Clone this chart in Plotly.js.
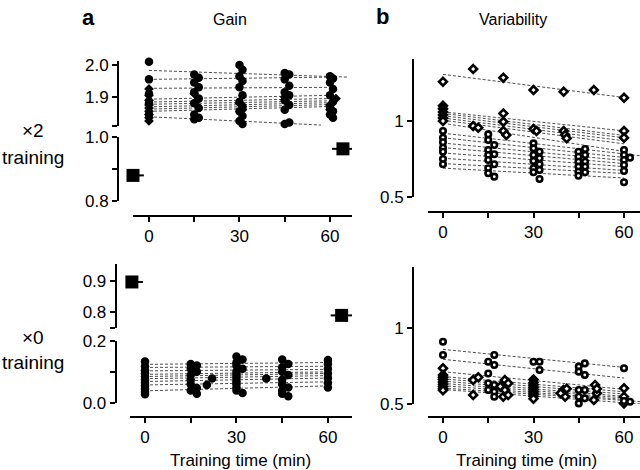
<!DOCTYPE html>
<html>
<head>
<meta charset="utf-8">
<script src="https://cdn.plot.ly/plotly-3.0.1.min.js"></script>
<style>html,body{margin:0;padding:0;background:#fff;}#chart{width:640px;height:470px;}</style>
</head>
<body>
<div id="chart"></div>
<script>
// ---------- DATA ----------
const timeTicks = [0, 15, 30, 45, 60];
const timeTickText = ['0', '', '30', '', '60'];

// Panel a, x2 training (gain), upper segment
const gainX2CircX = [0,0,0,0,0, 15,16.5,15,16.5,15,16.5,15,16.5,15,16.5,15, 30,31,30,31,30,31,30,31,30,31,30,31, 45,46.5,45,46.5,45,46.5,45,46.5,45,46.5,45, 60,61,60,61,60,61,60,61,60,61];
const gainX2CircY = [2.01,1.955,1.91,1.88,1.845, 1.97,1.96,1.945,1.93,1.915,1.895,1.88,1.865,1.845,1.835,1.83, 2.0,1.985,1.965,1.95,1.93,1.905,1.885,1.87,1.855,1.84,1.825,1.815, 1.975,1.97,1.955,1.935,1.915,1.905,1.89,1.875,1.86,1.82,1.815, 1.965,1.958,1.945,1.925,1.905,1.885,1.87,1.855,1.845,1.835];
const gainX2DiaX = [0,0,0,0,0,0,0,0,0, 15,16, 30,31, 45,46, 62,60,60];
const gainX2DiaY = [1.925,1.905,1.89,1.875,1.865,1.855,1.845,1.835,1.825, 1.91,1.89, 1.88,1.86, 1.90,1.88, 1.895,1.875,1.86];
const gainX2LineStart = [1.983,1.955,1.927,1.893,1.884,1.877,1.869,1.862,1.855,1.838];
const gainX2LineEnd   = [1.962,1.962,1.93,1.905,1.895,1.888,1.882,1.876,1.87,1.812];
const gainX2LineEndX  = [66,60,60,60,60,60,60,60,60,57];
// Panel a, x2 training, lower segment (mean gain before / after)
const gainX2MeanX = [-5.3, 64.3];
const gainX2MeanY = [0.88, 0.963];
const gainX2MeanErr = [3.6, 3.6];

// Panel a, x0 training (gain), lower segment
const gainX0CircX = [0,0,0,0,0,0,0,0,0,0,0, 15,17,15,17,15,15,15,17,15,17, 20.3,22, 30,32,30,30,32,30,30,30,30,30,30,30,32, 39.8, 45,47,45,45,47,45,45,47,45,45,47, 60,60,60,60,60,60,60];
const gainX0CircY = [0.133,0.118,0.105,0.095,0.085,0.075,0.065,0.055,0.045,0.035,0.028, 0.125,0.12,0.11,0.10,0.09,0.075,0.06,0.048,0.04,0.03, 0.058,0.079, 0.149,0.14,0.13,0.12,0.11,0.10,0.09,0.08,0.07,0.06,0.05,0.04,0.032, 0.079, 0.14,0.125,0.115,0.10,0.09,0.075,0.06,0.05,0.04,0.03,0.022, 0.138,0.125,0.11,0.095,0.08,0.065,0.05];
const gainX0LineStart = [0.124,0.114,0.103,0.092,0.085,0.078,0.069,0.058,0.039];
const gainX0LineEnd   = [0.13,0.118,0.108,0.10,0.095,0.088,0.08,0.068,0.055];
const gainX0LineEndX  = [60,60,60,60,60,60,60,60,60];
// Panel a, x0 training, upper segment (mean gain before / after)
const gainX0MeanX = [-4.3, 64.5];
const gainX0MeanY = [0.896, 0.79];
const gainX0MeanErr = [3.6, 3.6];

// Panel b, x2 training (variability)
const varX2DiaX = [0,10,20,30,40,50,60, 0,0,0,0,0,0, 10,11.7, 20,20,20,21, 30,31, 40,40.5,41, 60,60];
const varX2DiaY = [1.259,1.342,1.285,1.204,1.193,1.204,1.153, 1.10,1.08,1.06,1.04,1.02,1.0, 0.967,0.956, 1.05,0.995,0.934,0.908, 0.947,0.934, 0.934,0.908,0.886, 0.934,0.89];
const varX2CircX = [0,0,0,0,0,0,0, 15,15,17,15,17,15,15,17,15,15,17, 30,30,32,30,32,30,32,30,32,30,32, 44.9,47.1,44.9,47.1,44.9,47.1,44.9,47.1,44.9,47.1,44.9, 60,60,62,60,60,60,60];
const varX2CircY = [0.934,0.89,0.86,0.824,0.798,0.75,0.715, 0.912,0.875,0.842,0.809,0.781,0.776,0.743,0.715,0.689,0.656,0.634, 0.853,0.82,0.798,0.776,0.755,0.737,0.715,0.689,0.678,0.663,0.618, 0.798,0.816,0.765,0.776,0.732,0.732,0.70,0.70,0.666,0.663,0.64, 0.809,0.776,0.759,0.743,0.711,0.671,0.597];
const varX2LineStart = [1.307,1.06,1.05,1.035,1.02,1.005,0.985,0.92,0.89,0.855,0.825,0.79,0.755,0.72,0.69];
const varX2LineEnd   = [1.155,0.935,0.905,0.89,0.87,0.85,0.80,0.77,0.76,0.74,0.72,0.70,0.675,0.655,0.625];
const varX2LineEndX  = [60,60,60,60,60,60,60,66,60,60,60,60,60,60,60];

// Panel b, x0 training (variability)
const varX0CircX = [0,0, 15,17,17,15,15,17,15,17,17, 30,32,32, 45,47,45,47,45,47,45,47,45, 60,60,62];
const varX0CircY = [0.908,0.821, 0.777,0.821,0.756,0.70,0.636,0.625,0.592,0.581,0.548, 0.777,0.777,0.723, 0.745,0.766,0.712,0.69,0.592,0.592,0.548,0.537,0.504, 0.734,0.52,0.515];
const varX0DiaX = [0,0,0,0,0,0,0,0,0, 10,11.7,10, 20.5,21.6,20.5,20,21.6,19, 30,30,30,30,30,30,30,30,30, 39.9,40.5,41,39, 50.4,51,50,51, 60,60,60];
const varX0DiaY = [0.734,0.69,0.675,0.66,0.645,0.63,0.615,0.60,0.59, 0.657,0.675,0.559, 0.657,0.636,0.592,0.548,0.559,0.615, 0.66,0.64,0.625,0.61,0.595,0.58,0.565,0.55,0.535, 0.592,0.548,0.60,0.57, 0.625,0.57,0.526,0.60, 0.603,0.548,0.504];
const varX0LineStart = [0.858,0.793,0.712,0.68,0.665,0.65,0.635,0.62,0.605,0.595];
const varX0LineEnd   = [0.74,0.67,0.596,0.58,0.565,0.55,0.54,0.53,0.515,0.50];
const varX0LineEndX  = [60,60,60,60,60,60,60,60,66,66];

// ---------- HELPERS ----------
const FONT = 'Liberation Sans, Arial, Helvetica, sans-serif';
const W = 640, H = 470;
const px = v => v / W;
const py = v => 1 - v / H;

function fitLines(starts, ends, endX, xa, ya) {
  const x = [], y = [];
  for (let i = 0; i < starts.length; i++) {
    x.push(0, endX[i], null);
    y.push(starts[i], ends[i], null);
  }
  return {type:'scatter', mode:'lines', x, y, xaxis:xa, yaxis:ya, hoverinfo:'skip',
    line:{color:'#3a3a3a', width:0.9, dash:'3px,2px'}};
}
function filled(xs, ys, sym, size, xa, ya) {
  return {type:'scatter', mode:'markers', x:xs, y:ys, xaxis:xa, yaxis:ya, cliponaxis:false,
    marker:{symbol:sym, size:size, color:'#000', line:{width:0}}};
}
function open(xs, ys, sym, size, xa, ya) {
  return {type:'scatter', mode:'markers', x:xs, y:ys, xaxis:xa, yaxis:ya, cliponaxis:false,
    marker:{symbol:sym, size:size, color:'#fff', line:{width:2.6, color:'#000'}}};
}
function means(xs, ys, errs, xa, ya) {
  return {type:'scatter', mode:'markers', x:xs, y:ys, xaxis:xa, yaxis:ya, cliponaxis:false,
    marker:{symbol:'square', size:13, color:'#000'},
    error_x:{type:'data', array:errs, visible:true, width:0, thickness:2, color:'#000'}};
}

const traces = [
  fitLines(gainX2LineStart, gainX2LineEnd, gainX2LineEndX, 'x', 'y'),
  filled(gainX2CircX, gainX2CircY, 'circle', 8.5, 'x', 'y'),
  filled(gainX2DiaX, gainX2DiaY, 'diamond', 7.5, 'x', 'y'),
  means(gainX2MeanX, gainX2MeanY, gainX2MeanErr, 'x', 'y2'),

  fitLines(varX2LineStart, varX2LineEnd, varX2LineEndX, 'x2', 'y3'),
  open(varX2DiaX, varX2DiaY, 'diamond', 6, 'x2', 'y3'),
  open(varX2CircX, varX2CircY, 'circle', 5.5, 'x2', 'y3'),

  means(gainX0MeanX, gainX0MeanY, gainX0MeanErr, 'x3', 'y4'),
  fitLines(gainX0LineStart, gainX0LineEnd, gainX0LineEndX, 'x3', 'y5'),
  filled(gainX0CircX, gainX0CircY, 'circle', 8.5, 'x3', 'y5'),

  fitLines(varX0LineStart, varX0LineEnd, varX0LineEndX, 'x4', 'y6'),
  open(varX0DiaX, varX0DiaY, 'diamond', 6, 'x4', 'y6'),
  open(varX0CircX, varX0CircY, 'circle', 5.5, 'x4', 'y6')
];

const tickFont = {family:FONT, size:17, color:'#000'};
function xAx(d0, d1, r0, r1, yPos) {
  return {domain:[px(d0), d1 >= W ? 1 : px(d1)], range:[r0, r1], anchor:'free', position:py(yPos),
    showline:true, linewidth:2, linecolor:'#000', ticks:'outside', ticklen:5, tickwidth:2, tickcolor:'#000',
    tickmode:'array', tickvals:timeTicks, ticktext:timeTickText, showgrid:false, zeroline:false,
    tickfont:tickFont, fixedrange:true};
}
function yAx(top, bottom, r0, r1, xPos, vals, texts) {
  return {domain:[py(bottom), py(top)], range:[r0, r1], anchor:'free', position:px(xPos),
    showline:true, linewidth:2, linecolor:'#000', ticks:'outside', ticklen:5, tickwidth:2, tickcolor:'#000',
    tickmode:'array', tickvals:vals, ticktext:texts, showgrid:false, zeroline:false,
    tickfont:tickFont, fixedrange:true};
}

function ann(text, x, y, size, bold) {
  return {text: bold ? '<b>' + text + '</b>' : text, x:px(x), y:py(y), xref:'paper', yref:'paper',
    showarrow:false, xanchor:'center', yanchor:'middle', font:{family:FONT, size:size, color:'#000'}};
}

const layout = {
  width: W, height: H,
  margin:{l:0, r:0, t:0, b:0},
  paper_bgcolor:'#fff', plot_bgcolor:'rgba(0,0,0,0)',
  showlegend:false,
  font:{family:FONT, color:'#000'},
  xaxis:  xAx(133, 352, -5.3, 67.3, 216),
  yaxis:  yAx(61, 126, 1.809, 2.0125, 118, [1.8095, 1.9, 2.0], ['', '1.9', '2.0']),
  yaxis2: yAx(137, 201, 0.8, 1.0, 118, [0.8, 0.9, 1.0], ['0.8', '', '1.0']),
  xaxis2: xAx(428, 640, -4.97, 65.3, 212),
  yaxis3: yAx(59, 197, 0.5, 1.408, 413, [0.5, 1], ['0.5', '1']),
  xaxis3: xAx(130, 352, -4.92, 67.9, 417),
  yaxis4: yAx(264, 328, 0.750, 0.953, 115.7, [0.7505, 0.8, 0.9], ['', '0.8', '0.9']),
  yaxis5: yAx(340.7, 403, 0.0, 0.2, 115.7, [0, 0.1, 0.2], ['0.0', '', '0.2']),
  xaxis4: xAx(428, 640, -4.97, 65.3, 417),
  yaxis6: yAx(267, 404, 0.5, 1.398, 413, [0.5, 1], ['0.5', '1']),
  annotations: [
    ann('a', 88, 17, 22, true),
    ann('Gain', 230, 20, 16, false),
    ann('b', 382, 16, 22, true),
    ann('Variability', 513, 20, 16, false),
    ann('×2', 33, 130, 19, false),
    ann('training', 33, 157, 19, false),
    ann('×0', 33, 337, 19, false),
    ann('training', 33, 362, 19, false),
    ann('Training time (min)', 240, 460, 17, false),
    ann('Training time (min)', 526, 460, 17, false)
  ]
};

Plotly.newPlot('chart', traces, layout, {staticPlot:true, displayModeBar:false});
</script>
</body>
</html>
